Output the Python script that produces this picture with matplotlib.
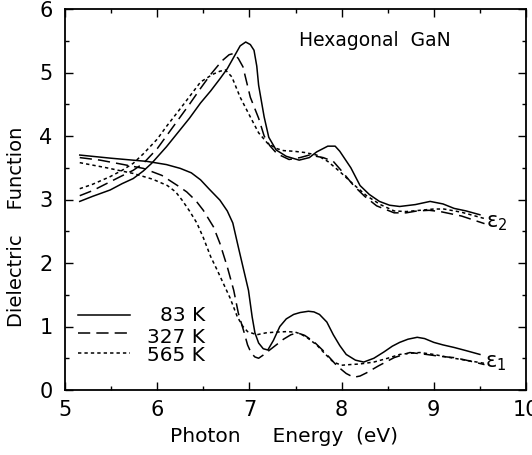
import matplotlib
matplotlib.use("Agg")
import matplotlib.pyplot as plt
from matplotlib.ticker import MultipleLocator

# ---- data ----
eps2_83_x = [5.16, 5.3, 5.49, 5.62, 5.74, 5.85, 5.94, 6.1, 6.25, 6.35, 6.47, 6.58, 6.68, 6.76, 6.83, 6.9, 6.96, 7.01, 7.05, 7.08, 7.1, 7.16, 7.21, 7.29, 7.40, 7.54, 7.65, 7.73, 7.85, 7.93, 7.98, 8.1, 8.2, 8.3, 8.41, 8.52, 8.63, 8.8, 8.96, 9.1, 9.22, 9.35, 9.5]
eps2_83_y = [2.97, 3.05, 3.15, 3.25, 3.33, 3.45, 3.57, 3.83, 4.1, 4.28, 4.52, 4.71, 4.9, 5.06, 5.24, 5.42, 5.48, 5.44, 5.35, 5.1, 4.8, 4.3, 3.98, 3.78, 3.68, 3.62, 3.66, 3.75, 3.84, 3.84, 3.76, 3.5, 3.22, 3.08, 2.97, 2.91, 2.89, 2.92, 2.97, 2.93, 2.86, 2.82, 2.76]

eps2_327_x = [5.16, 5.3, 5.45, 5.6, 5.74, 5.85, 6.0, 6.1, 6.25, 6.35, 6.47, 6.58, 6.7, 6.78, 6.83, 6.88, 6.93, 7.01, 7.1, 7.16, 7.22, 7.3, 7.43, 7.55, 7.65, 7.8, 7.91, 8.0, 8.13, 8.25, 8.38, 8.57, 8.7, 8.82, 8.95, 9.07, 9.3, 9.55]
eps2_327_y = [3.06, 3.14, 3.25, 3.36, 3.46, 3.57, 3.8, 4.0, 4.3, 4.5, 4.75, 4.97, 5.18, 5.28, 5.3, 5.22, 5.09, 4.61, 4.28, 4.0, 3.85, 3.72, 3.63, 3.66, 3.7, 3.66, 3.6, 3.45, 3.22, 3.05, 2.9, 2.79, 2.79, 2.82, 2.83, 2.81, 2.74, 2.62]

eps2_565_x = [5.16, 5.3, 5.49, 5.62, 5.74, 5.85, 6.0, 6.1, 6.25, 6.35, 6.47, 6.6, 6.68, 6.74, 6.81, 6.9, 7.01, 7.1, 7.2, 7.3, 7.37, 7.48, 7.6, 7.73, 7.85, 7.98, 8.12, 8.27, 8.42, 8.57, 8.7, 8.85, 9.0, 9.11, 9.3, 9.55]
eps2_565_y = [3.17, 3.24, 3.36, 3.46, 3.57, 3.72, 3.95, 4.15, 4.43, 4.62, 4.85, 4.97, 5.02, 5.04, 4.93, 4.61, 4.3, 4.05, 3.88, 3.8, 3.77, 3.76, 3.74, 3.7, 3.6, 3.44, 3.25, 3.06, 2.92, 2.82, 2.81, 2.83, 2.85, 2.85, 2.8, 2.7]

eps1_83_x = [5.16, 5.5, 5.89, 6.1, 6.25, 6.37, 6.47, 6.56, 6.68, 6.76, 6.82, 6.88, 6.93, 6.99, 7.03, 7.06, 7.1, 7.15, 7.2, 7.26, 7.33, 7.4, 7.48, 7.55, 7.64, 7.7, 7.76, 7.84, 7.91, 7.98, 8.05, 8.15, 8.24, 8.35, 8.46, 8.55, 8.63, 8.72, 8.82, 8.9, 9.0, 9.1, 9.22, 9.35, 9.5]
eps1_83_y = [3.7, 3.65, 3.6, 3.55, 3.49, 3.42, 3.31, 3.17, 2.99, 2.82, 2.63, 2.25, 1.94, 1.57, 1.15, 0.9, 0.74, 0.65, 0.63, 0.78, 1.0, 1.12, 1.19, 1.22, 1.24, 1.23, 1.19, 1.07, 0.87, 0.7, 0.56, 0.47, 0.44, 0.5, 0.6, 0.69, 0.75, 0.8, 0.83, 0.81, 0.75, 0.71, 0.67, 0.62, 0.56]

eps1_327_x = [5.16, 5.38, 5.6, 5.85, 6.05, 6.22, 6.32, 6.42, 6.5, 6.61, 6.68, 6.76, 6.83, 6.88, 6.94, 6.98, 7.02, 7.06, 7.1, 7.15, 7.22, 7.3, 7.37, 7.45, 7.52, 7.6, 7.7, 7.8, 7.87, 7.95, 8.05, 8.13, 8.2, 8.27, 8.4, 8.57, 8.74, 8.92, 9.07, 9.22, 9.35, 9.55]
eps1_327_y = [3.66, 3.62, 3.56, 3.49, 3.38, 3.22, 3.12, 2.98, 2.83, 2.57, 2.31, 1.94, 1.57, 1.21, 0.92, 0.71, 0.58, 0.52, 0.5, 0.55, 0.63, 0.72, 0.8, 0.87, 0.9, 0.86, 0.76, 0.62, 0.51, 0.38, 0.26, 0.2, 0.22, 0.27, 0.38, 0.51, 0.59, 0.56, 0.53, 0.51, 0.47, 0.4]

eps1_565_x = [5.16, 5.45, 5.74, 5.95, 6.11, 6.2, 6.27, 6.35, 6.43, 6.5, 6.58, 6.65, 6.72, 6.79, 6.87, 6.93, 6.98, 7.08, 7.18, 7.27, 7.41, 7.5, 7.56, 7.63, 7.73, 7.82, 7.91, 8.0, 8.09, 8.2, 8.35, 8.5, 8.63, 8.75, 8.85, 9.0, 9.14, 9.3, 9.55]
eps1_565_y = [3.58, 3.5, 3.41, 3.32, 3.22, 3.12, 2.99, 2.82, 2.63, 2.4, 2.1, 1.89, 1.67, 1.45, 1.15, 1.0, 0.92, 0.87, 0.9, 0.91, 0.92, 0.91, 0.88, 0.82, 0.71, 0.57, 0.44, 0.39, 0.4, 0.41, 0.44, 0.5, 0.56, 0.58, 0.59, 0.56, 0.52, 0.48, 0.42]

temps = ["83 K", "327 K", "565 K"]
x_ticks = [5, 6, 7, 8, 9, 10]
y_ticks = [0, 1, 2, 3, 4, 5, 6]

# ---- figure ----
plt.rcParams['font.family'] = ['DejaVu Sans']
fig = plt.figure(figsize=(5.32, 4.55), dpi=100)
ax = fig.add_axes([65 / 532, 1 - 390 / 455, 461 / 532, 381 / 455])

lw = 1.1
styles = ['-', (0, (8, 4)), (0, (2.2, 2))]
series = [
    (eps2_83_x, eps2_83_y, eps1_83_x, eps1_83_y),
    (eps2_327_x, eps2_327_y, eps1_327_x, eps1_327_y),
    (eps2_565_x, eps2_565_y, eps1_565_x, eps1_565_y),
]
for (x2, y2, x1, y1), ls in zip(series, styles):
    ax.plot(x2, y2, color='black', lw=lw, linestyle=ls)
    ax.plot(x1, y1, color='black', lw=lw, linestyle=ls)

# legend drawn manually inside plot
leg_y = [1.18, 0.9, 0.58]
txt_y = [1.18, 0.83, 0.55]
for ls, ly, ty, t in zip(styles, leg_y, txt_y, temps):
    ax.plot([5.14, 5.70], [ly, ly], color='black', lw=lw, linestyle=ls)
    ax.text(6.52, ty, t, ha='right', va='center', fontsize=14.5)

ax.text(7.54, 5.5, "Hexagonal  GaN", fontsize=13.5, ha='left', va='center')
ax.text(9.57, 2.63, "ε$_2$", fontsize=15, ha='left', va='center')
ax.text(9.55, 0.43, "ε$_1$", fontsize=15, ha='left', va='center')

ax.set_xlim(5, 10)
ax.set_ylim(0, 6)
ax.set_xticks(x_ticks)
ax.set_yticks(y_ticks)
ax.xaxis.set_minor_locator(MultipleLocator(0.5))
ax.yaxis.set_minor_locator(MultipleLocator(0.5))
ax.tick_params(which='both', direction='in', top=True, right=True, labelsize=15, width=1.0)
ax.tick_params(which='major', length=6)
ax.tick_params(which='minor', length=3)
ax.tick_params(axis='x', pad=7)
ax.tick_params(axis='y', pad=9)
for s in ax.spines.values():
    s.set_linewidth(1.3)

ax.set_xlabel("Photon     Energy  (eV)", fontsize=14.5)
ax.xaxis.set_label_coords(0.474, -0.098)
ax.set_ylabel("Dielectric    Function", fontsize=14)
ax.yaxis.set_label_coords(-0.084, 0.428)

fig.savefig("out.png", dpi=100)
